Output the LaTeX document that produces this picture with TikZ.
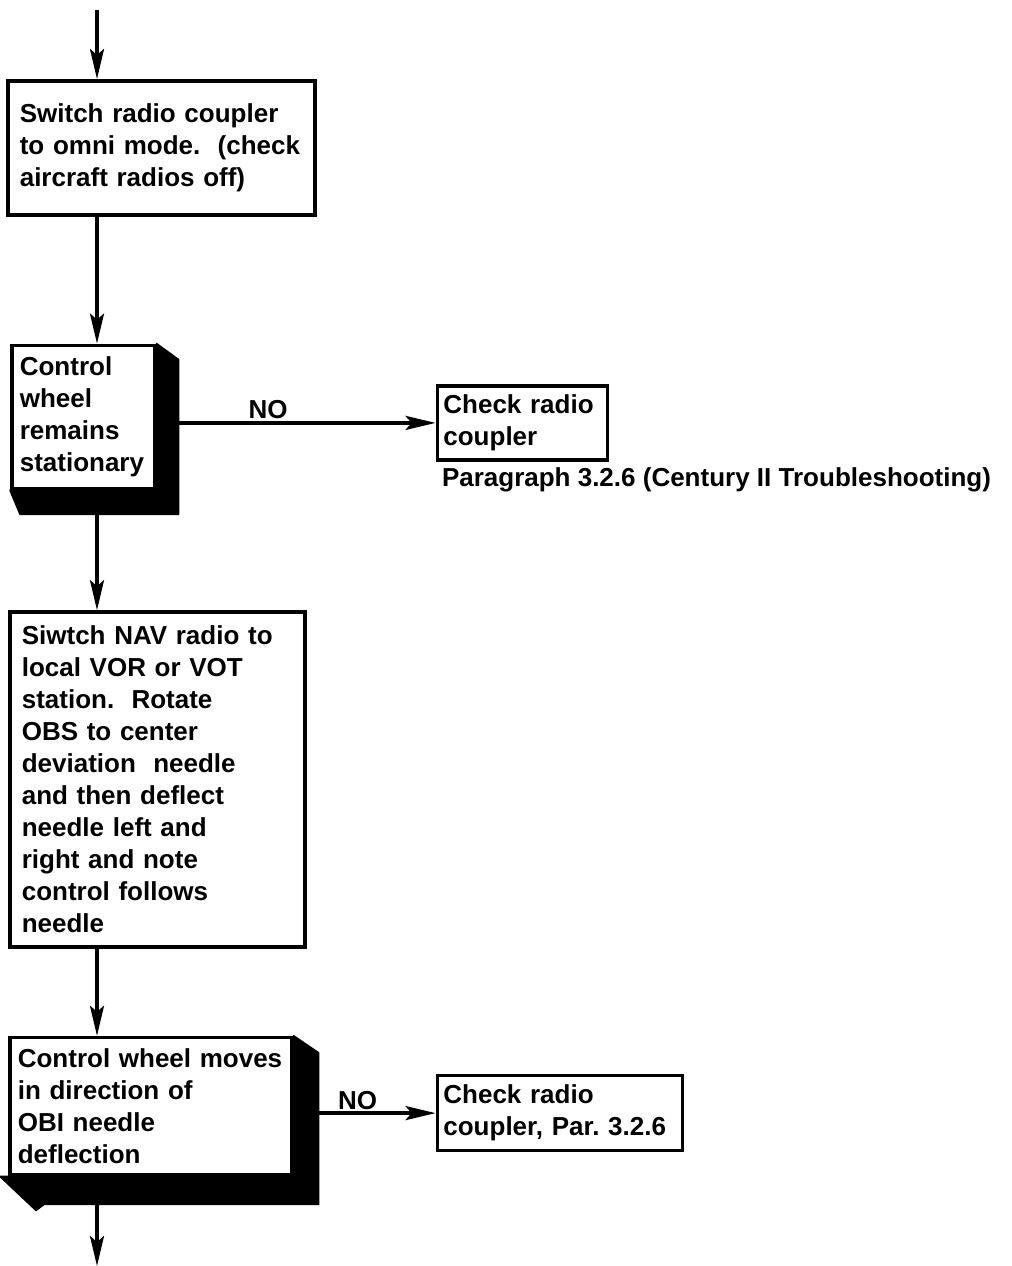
\documentclass[tikz,border=0pt]{standalone}
\usepackage{fontspec}
\setmainfont{Liberation Sans}
\usepackage{tikz}
\usetikzlibrary{arrows.meta,positioning}
\hyphenpenalty=10000
\exhyphenpenalty=10000
\frenchspacing
\tikzset{
  box/.style={rectangle, draw=black, fill=white, line width=1.8pt, align=left,
              inner xsep=6pt, inner ysep=3pt, font=\bfseries\fontsize{13}{16}\selectfont},
  boxdec/.style={box, inner xsep=4pt},
  boxchk/.style={box, inner xsep=3pt, inner ysep=1pt},
  shade/.style={fill=black, draw=black, line width=0.8pt, line join=round},
  fl/.style={-{Stealth[length=15pt,width=7pt,inset=3pt]}, line width=1.7pt, draw=black},
  lbl/.style={font=\bfseries\fontsize{13}{16}\selectfont, inner sep=1pt},
  note/.style={font=\bfseries\fontsize{13}{16}\selectfont, inner sep=1pt},
}

\begin{document}
\begin{tikzpicture}
  \useasboundingbox (0,0) rectangle (506pt,-633pt);
  \coordinate (top) at (48.5pt,-5pt);
  \coordinate (bot) at (48.5pt,-633pt);
  \node[box, text width=141.5pt, minimum height=67pt, anchor=north west] (s1) at (3pt,-39.5pt)
    {Switch radio coupler\\ to omni mode.\ \ (check\\ aircraft radios off)};
  \node[boxdec, text width=63.5pt, minimum height=71.5pt, below=63.5pt of s1.south west, anchor=north west, xshift=2pt] (d1)
    {Control\\ wheel\\ remains\\ stationary};
  \node[boxchk, text width=79pt, minimum height=37pt, right=139.5pt of d1, yshift=-3pt] (c1)
    {Check radio\\ coupler};
  \node[note, below=2pt of c1.south west, anchor=north west, xshift=2pt] (p1)
    {Paragraph 3.2.6 (Century II Troubleshooting)};
  \node[box, text width=135.5pt, minimum height=167.5pt, below=60pt of d1.south west, anchor=north west, xshift=-1pt] (s3)
    {Siwtch NAV radio to\\ local VOR or VOT\\ station.\ \ Rotate\\ OBS to center\\ deviation\ \ needle\\ and then deflect\\ needle left and\\ right and note\\ control follows\\ needle};
  \node[boxdec, text width=133pt, minimum height=68.5pt, below=43.5pt of s3.south west, anchor=north west] (d2)
    {Control wheel moves\\ in direction of\\ OBI needle\\ deflection};
  \node[boxchk, text width=116.5pt, minimum height=37.5pt, right=71pt of d2, yshift=-3.5pt] (c2)
    {Check radio\\ coupler, Par. 3.2.6};
  % shadows of the decision boxes
  \fill[shade] (d1.north east) -- ++(11pt,-8pt) |- ([xshift=5pt,yshift=-12pt]d1.south west)
    -- (d1.south west) -- (d1.south east) -- cycle;
  \fill[shade] (d2.north east) -- ++(12.5pt,-8.5pt) |- ([xshift=18pt,yshift=-14pt]d2.south west)
    -- ([xshift=14pt,yshift=-17pt]d2.south west) -- ([xshift=-4pt]d2.south west)
    -- (d2.south west) -- (d2.south east) -- cycle;
  \draw[fl] (top) -- (s1.north -| top);
  \draw[fl] (s1.south -| top) -- (d1.north -| top);
  \draw[fl] (d1.south -| top) -- (s3.north -| top);
  \draw[fl] (s3.south -| top) -- (d2.north -| top);
  \draw[fl] (d2.south -| top) -- (bot);
  \draw[fl] (d1.east |- c1.west) -- node[lbl, pos=0.4, above] {NO} (c1.west);
  \draw[fl] (d2.east |- c2.west) -- node[lbl, pos=0.45, above] {NO} (c2.west);
\end{tikzpicture}
\end{document}
